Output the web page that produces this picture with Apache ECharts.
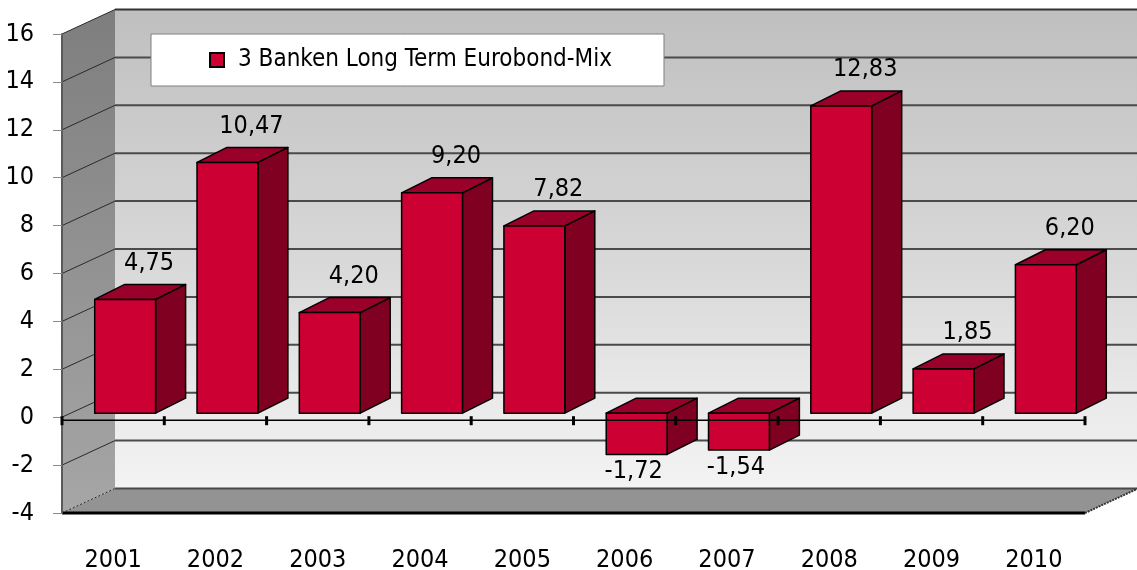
<!DOCTYPE html>
<html>
<head>
<meta charset="utf-8">
<script src="https://cdn.jsdelivr.net/npm/echarts@6/dist/echarts.min.js"></script>
<style>
  html, body { margin: 0; padding: 0; background: #fff; }
  #chart { width: 1137px; height: 570px; }
</style>
</head>
<body>
<div id="chart"></div>
<script>
// Daten
const years = ['2001', '2002', '2003', '2004', '2005', '2006', '2007', '2008', '2009', '2010'];
const returns = [4.75, 10.47, 4.20, 9.20, 7.82, -1.72, -1.54, 12.83, 1.85, 6.20];
const seriesName = '3 Banken Long Term Eurobond-Mix';
const yTicks = [-4, -2, 0, 2, 4, 6, 8, 10, 12, 14, 16];

const FONT = '"DejaVu Sans Condensed", "DejaVu Sans", sans-serif';
const FRONT = '#cc0033', TOP = '#99002a', SIDE = '#800022';

// 3D-Versatz
const WALL_DX = 53, WALL_DY = -24.5;
const BAR_OX = 12, BAR_OY = -4;
const BAR_DX = 30, BAR_DY = -15;
const BAR_RATIO = 0.595;

const fmt = (v) => v.toFixed(2).replace('.', ',');

function renderWalls(params, api) {
  const band = api.size([1, 0])[0];
  const yMin = yTicks[0], yMax = yTicks[yTicks.length - 1];
  const L = api.coord([0, yMin])[0] - band / 2;
  const R = api.coord([years.length - 1, yMin])[0] + band / 2;
  const yB = api.coord([0, yMin])[1];
  const yT = api.coord([0, yMax])[1];
  const dx = WALL_DX, dy = WALL_DY;
  const children = [
    {
      type: 'polygon',
      shape: { points: [[L + dx, yT + dy], [R + dx, yT + dy], [R + dx, yB + dy], [L + dx, yB + dy]] },
      style: {
        fill: new echarts.graphic.LinearGradient(0, 0, 0, 1, [
          { offset: 0, color: '#bfbfbf' },
          { offset: 0.6, color: '#dcdcdc' },
          { offset: 0.8, color: '#e9e9e9' },
          { offset: 1, color: '#f3f3f3' }
        ])
      }
    },
    {
      type: 'polygon',
      shape: { points: [[L, yT], [L + dx, yT + dy], [L + dx, yB + dy], [L, yB]] },
      style: {
        fill: new echarts.graphic.LinearGradient(0, 0, 0, 1, [
          { offset: 0, color: '#7e7e7e' },
          { offset: 1, color: '#a6a6a6' }
        ])
      }
    },
    {
      type: 'polygon',
      shape: { points: [[L, yB], [R, yB], [R + dx, yB + dy], [L + dx, yB + dy]] },
      style: { fill: '#939393' }
    }
  ];
  yTicks.forEach((t, i) => {
    const y = api.coord([0, t])[1];
    children.push({
      type: 'line',
      shape: { x1: L + dx, y1: y + dy, x2: R + dx, y2: y + dy },
      style: { stroke: i === yTicks.length - 1 ? '#333' : '#4a4a4a', lineWidth: 2 }
    });
    children.push({
      type: 'line',
      shape: { x1: L, y1: y, x2: L + dx, y2: y + dy },
      style: { stroke: '#2a2a2a', lineWidth: 1, lineDash: i === 0 ? [2, 2] : null }
    });
  });
  children.push({
    type: 'line',
    shape: { x1: L, y1: yB, x2: R, y2: yB },
    style: { stroke: '#000', lineWidth: 3 }
  });
  children.push({
    type: 'line',
    shape: { x1: R, y1: yB, x2: R + dx, y2: yB + dy },
    style: { stroke: '#333', lineWidth: 2, lineDash: [2, 1] }
  });
  return { type: 'group', children };
}

function renderBar(params, api) {
  const idx = api.value(0), v = api.value(1);
  const base = api.coord([idx, 0]);
  const tip = api.coord([idx, v]);
  const band = api.size([1, 0])[0];
  const w = band * BAR_RATIO;
  const x0 = base[0] - w / 2 + BAR_OX, x1 = x0 + w;
  const yTop = Math.min(base[1], tip[1]) + BAR_OY;
  const yBot = Math.max(base[1], tip[1]) + BAR_OY;
  const ddx = BAR_DX, ddy = BAR_DY;
  const edge = { stroke: '#000', lineWidth: 1.5, lineJoin: 'round' };
  const cx = (x0 + x1) / 2;
  return {
    type: 'group',
    children: [
      {
        type: 'polygon',
        shape: { points: [[x1, yTop], [x1 + ddx, yTop + ddy], [x1 + ddx, yBot + ddy], [x1, yBot]] },
        style: Object.assign({ fill: SIDE }, edge)
      },
      {
        type: 'polygon',
        shape: { points: [[x0, yTop], [x0 + ddx, yTop + ddy], [x1 + ddx, yTop + ddy], [x1, yTop]] },
        style: Object.assign({ fill: TOP }, edge)
      },
      {
        type: 'rect',
        shape: { x: x0, y: yTop, width: w, height: yBot - yTop },
        style: Object.assign({ fill: FRONT }, edge)
      },
      {
        type: 'text',
        style: {
          text: fmt(v),
          x: v >= 0 ? cx + ddx * 0.8 : cx - 3,
          y: v >= 0 ? yTop + ddy - 21 : yBot + 17,
          align: 'center',
          verticalAlign: 'middle',
          fontSize: 25,
          fontFamily: FONT,
          fill: '#000'
        }
      }
    ]
  };
}

function renderZeroAxis(params, api) {
  const idx = api.value(0);
  const c = api.coord([idx, 0]);
  const band = api.size([1, 0])[0];
  const y = c[1] + 3;
  const left = c[0] - band / 2, right = c[0] + band / 2;
  const children = [
    { type: 'line', shape: { x1: left, y1: y, x2: right, y2: y }, style: { stroke: '#000', lineWidth: 1.5 } },
    { type: 'line', shape: { x1: left, y1: y - 4, x2: left, y2: y + 5 }, style: { stroke: '#000', lineWidth: 3 } }
  ];
  if (idx === years.length - 1) {
    children.push({ type: 'line', shape: { x1: right, y1: y - 4, x2: right, y2: y + 5 }, style: { stroke: '#000', lineWidth: 3 } });
  }
  return { type: 'group', children };
}

const chart = echarts.init(document.getElementById('chart'));
chart.setOption({
  animation: false,
  backgroundColor: '#fff',
  grid: { left: 62, right: 52, top: 34, bottom: 57, outerBoundsMode: 'none' },
  legend: {
    data: [{ name: seriesName, icon: 'rect', itemStyle: { color: FRONT, borderColor: '#000', borderWidth: 2 } }],
    left: 151,
    top: 34,
    padding: [14, 52, 14, 58],
    itemWidth: 14,
    itemHeight: 14,
    backgroundColor: '#fff',
    borderColor: '#808080',
    borderWidth: 1,
    selectedMode: false,
    textStyle: { fontSize: 24, fontFamily: FONT, color: '#000', padding: [0, 0, 0, 9] }
  },
  xAxis: {
    type: 'category',
    data: years,
    axisLine: { show: false, onZero: false },
    axisTick: { show: false },
    splitLine: { show: false },
    axisLabel: { fontSize: 25, fontFamily: FONT, color: '#000', margin: 35 }
  },
  yAxis: {
    type: 'value',
    min: -4,
    max: 16,
    interval: 2,
    z: 2,
    axisLine: { show: true, lineStyle: { color: '#5a5a5a', width: 2 } },
    axisTick: { show: true, length: 9, lineStyle: { color: '#8a8a8a' } },
    splitLine: { show: false },
    axisLabel: { fontSize: 25, fontFamily: FONT, color: '#000', margin: 28 }
  },
  series: [
    {
      type: 'custom',
      name: 'walls',
      z: 1,
      silent: true,
      renderItem: renderWalls,
      data: [[0, 0]]
    },
    {
      type: 'custom',
      name: seriesName,
      z: 3,
      itemStyle: { color: FRONT },
      renderItem: renderBar,
      data: returns.map((v, i) => [i, v])
    },
    {
      type: 'custom',
      name: 'zeroAxis',
      z: 5,
      silent: true,
      renderItem: renderZeroAxis,
      data: years.map((y, i) => [i, 0])
    }
  ]
});
</script>
</body>
</html>
